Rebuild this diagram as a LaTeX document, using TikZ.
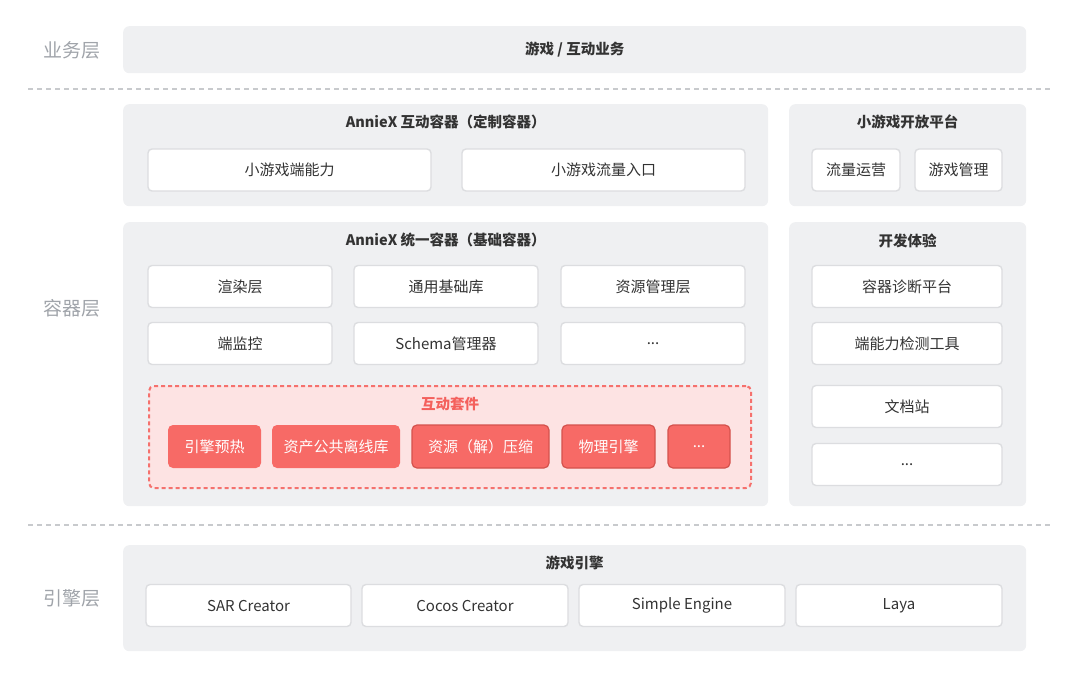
\documentclass[tikz,border=0pt]{standalone}
\usepackage{fontspec}
\setmainfont{Noto Sans CJK SC}
\usetikzlibrary{positioning}

\definecolor{panelgray}{HTML}{EFF0F2}
\definecolor{cellborder}{HTML}{DCDDE0}
\definecolor{textdark}{HTML}{333333}
\definecolor{layergray}{HTML}{A0A4AA}
\definecolor{sepgray}{HTML}{C8CACD}
\definecolor{suitefill}{HTML}{FDE3E3}
\definecolor{suiteline}{HTML}{F4605C}
\definecolor{suitedash}{HTML}{F5716D}
\definecolor{kitred}{HTML}{F76A66}
\definecolor{kitedge}{HTML}{D4524D}

\begin{document}
\begin{tikzpicture}[
    x=1pt, y=-1pt,
    font=\fontsize{15}{17}\selectfont,
    text=textdark,
    panel/.style={
        fill=panelgray,
        rounded corners=6pt,
        anchor=north west,
        inner sep=0pt
    },
    panel title/.style={
        font=\fontsize{14.5}{17}\selectfont\bfseries,
        text=textdark
    },
    cell/.style={
        draw=cellborder,
        fill=white,
        line width=1.4pt,
        rounded corners=4pt,
        minimum width=#1,
        minimum height=42pt,
        inner sep=0pt
    },
    kit/.style={
        fill=kitred,
        text=white,
        rounded corners=5pt,
        minimum width=#1,
        minimum height=43pt,
        inner sep=0pt
    },
    kit edged/.style={
        kit=#1,
        draw=kitedge,
        line width=1.2pt
    },
    layer label/.style={
        font=\fontsize{19}{22}\selectfont,
        text=layergray
    },
    separator/.style={
        draw=sepgray,
        line width=1.5pt,
        dash pattern=on 5pt off 4pt
    }
]
    \useasboundingbox (0,0) rectangle (1080,678);

    % --- LAYER LABELS ---
    \node[layer label] (bizlayer) at (72,50) {业务层};
    \node[layer label] (conlayer) at (72,308) {容器层};
    \node[layer label] (englayer) at (72,598) {引擎层};

    % --- SEPARATORS ---
    \coordinate (sepA west) at (28,89);
    \coordinate (sepA east) at (1050,89);
    \coordinate (sepB west) at (28,525);
    \coordinate (sepB east) at (1050,525);
    \draw[separator] (sepA west) -- (sepA east);
    \draw[separator] (sepB west) -- (sepB east);

    % --- A. BUSINESS ---
    \node[panel, minimum width=903pt, minimum height=47pt] (biz) at (123,26) {};
    \node[panel title] (biztitle) at (biz.center) {游戏 / 互动业务};

    % --- B. CUSTOM CONTAINER ---
    \node[panel, minimum width=645pt, minimum height=102pt] (custom) at (123,104) {};
    \node[panel title] (customtitle) at ([yshift=-18pt]custom.north) {AnnieX 互动容器（定制容器）};
    \node[cell=283pt] (ability) at (289.5,170) {小游戏端能力};
    \node[cell=283pt] (traffic) at (603.5,170) {小游戏流量入口};

    % --- C. OPEN PLATFORM ---
    \node[panel, minimum width=237pt, minimum height=102pt] (open) at (789,104) {};
    \node[panel title] (opentitle) at ([yshift=-18pt]open.north) {小游戏开放平台};
    \node[cell=88pt] (ops) at (856,170) {流量运营};
    \node[cell=87pt] (gamemgr) at (958.5,170) {游戏管理};

    % --- D. UNIFIED CONTAINER ---
    \node[panel, minimum width=645pt, minimum height=284pt] (unified) at (123,222) {};
    \node[panel title] (unifiedtitle) at ([yshift=-18pt]unified.north) {AnnieX 统一容器（基础容器）};
    \node[cell=184pt] (render) at (240,286.5) {渲染层};
    \node[cell=184pt] (baselib) at (446,286.5) {通用基础库};
    \node[cell=184pt] (resmgr) at (653,286.5) {资源管理层};
    \node[cell=184pt] (monitor) at (240,343.5) {端监控};
    \node[cell=184pt] (schema) at (446,343.5) {Schema管理器};
    \node[cell=184pt] (moreA) at (653,343.5) {...};

    % Interaction suite
    \node[panel, fill=suitefill, draw=suitedash, line width=2pt, dash pattern=on 4pt off 3pt,
        rounded corners=5pt, minimum width=602pt, minimum height=102pt] (suite) at (148,385) {};
    \node[panel title, text=suiteline] (suitetitle) at ([yshift=-19pt]suite.north) {互动套件};
    \node[kit=93pt] (preheat) at (214.5,446.5) {引擎预热};
    \node[kit=128pt] (offline) at (336,446.5) {资产公共离线库};
    \node[kit edged=137pt] (compress) at (480.5,446.5) {资源（解）压缩};
    \node[kit edged=93pt] (physics) at (608.5,446.5) {物理引擎};
    \node[kit edged=62pt] (moreK) at (699,446.5) {...};

    % --- E. DEV EXPERIENCE ---
    \node[panel, minimum width=237pt, minimum height=284pt] (dev) at (789,222) {};
    \node[panel title] (devtitle) at ([yshift=-19pt]dev.north) {开发体验};
    \node[cell=190pt] (diagnose) at (907,286.5) {容器诊断平台};
    \node[cell=190pt] (checker) at (907,343.5) {端能力检测工具};
    \node[cell=190pt] (docs) at (907,406.5) {文档站};
    \node[cell=190pt] (moreD) at (907,464.5) {...};

    % --- F. GAME ENGINE ---
    \node[panel, minimum width=903pt, minimum height=106pt] (engine) at (123,545) {};
    \node[panel title] (enginetitle) at ([yshift=-18pt]engine.north) {游戏引擎};
    \node[cell=205pt] (sar) at (248.5,605.5) {SAR Creator};
    \node[cell=206pt] (cocos) at (465,605.5) {Cocos Creator};
    \node[cell=206pt] (simple) at (682,605.5) {Simple Engine};
    \node[cell=206pt] (laya) at (899,605.5) {Laya};

\end{tikzpicture}
\end{document}
